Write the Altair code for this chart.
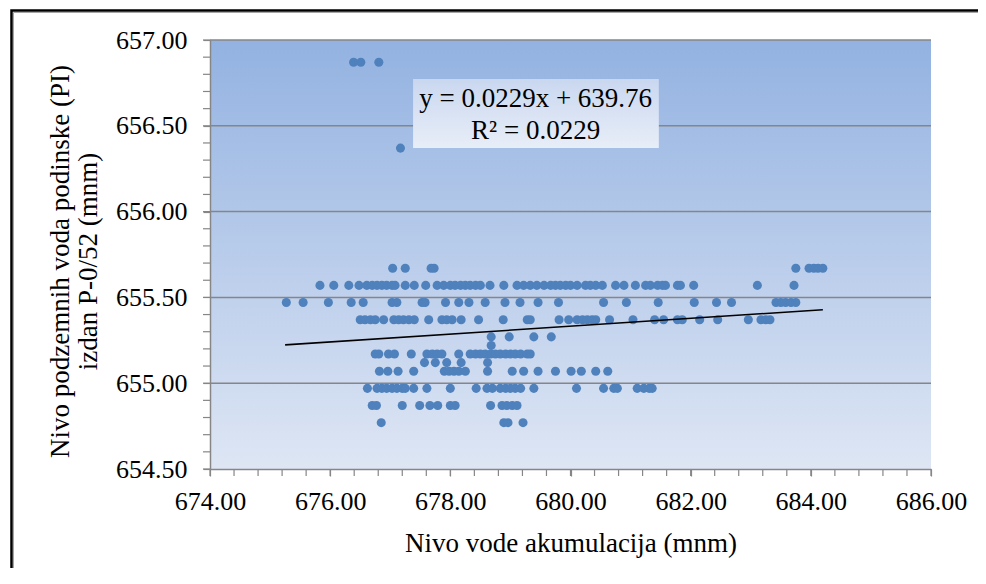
import altair as alt
import pandas as pd

# ---- data (x: Nivo vode akumulacija, one list per y level) ----
Y_LEVELS = [656.87, 656.37, 655.67, 655.57, 655.47, 655.37, 655.27, 655.22,
            655.17, 655.12, 655.07, 654.97, 654.87, 654.77]

x_65687 = [676.39, 676.51, 676.81]
x_65637 = [677.17]
x_65567 = [677.04, 677.25, 677.68, 677.73, 683.75, 683.97, 684.05, 684.12, 684.20]
x_65557 = [675.83, 676.06, 676.31, 676.48, 676.61, 676.70, 676.78, 676.86, 676.94,
           677.03, 677.08, 677.25, 677.40, 677.59, 677.78, 677.89, 678.00, 678.08,
           678.17, 678.25, 678.33, 678.42, 678.50, 678.66, 678.89, 679.11, 679.22,
           679.33, 679.44, 679.56, 679.67, 679.75, 679.83, 679.92, 680.00, 680.11,
           680.25, 680.33, 680.42, 680.53, 680.75, 680.89, 681.08, 681.25, 681.33,
           681.45, 681.53, 681.58, 681.78, 681.83, 682.05, 683.11, 683.72]
x_65547 = [675.27, 675.55, 675.97, 676.35, 676.55, 677.03, 677.11, 677.53, 677.58,
           677.92, 678.14, 678.31, 678.58, 678.91, 679.16, 679.46, 679.80, 680.55,
           680.93, 681.46, 682.06, 682.43, 682.68, 683.42, 683.50, 683.58, 683.67,
           683.75]
x_65537 = [676.50, 676.58, 676.67, 676.75, 676.89, 677.06, 677.14, 677.22, 677.31,
           677.40, 677.64, 677.86, 677.94, 678.03, 678.18, 678.47, 678.88, 679.28,
           679.33, 679.81, 679.97, 680.11, 680.20, 680.28, 680.36, 680.42, 680.65,
           681.04, 681.40, 681.55, 681.78, 681.86, 682.15, 682.45, 682.96, 683.17,
           683.25, 683.32]
x_65527 = [678.68, 678.98, 679.39, 679.68]
x_65522 = [678.68]
x_65517 = [676.75, 676.81, 676.97, 677.07, 677.35, 677.61, 677.70, 677.78, 677.86,
           678.14, 678.33, 678.42, 678.50, 678.58, 678.67, 678.75, 678.83, 678.92,
           679.00, 679.08, 679.17, 679.28, 679.33]
x_65512 = [677.57, 677.75, 677.94, 678.18, 678.62]
x_65507 = [676.82, 676.96, 677.13, 677.39, 677.90, 677.98, 678.06, 678.14, 678.25,
           678.62, 679.03, 679.22, 679.46, 679.75, 680.01, 680.18, 680.42, 680.62]
x_65497 = [676.62, 676.78, 676.86, 676.94, 677.03, 677.11, 677.20, 677.25, 677.39,
           677.61, 678.00, 678.43, 678.61, 678.70, 678.83, 678.92, 679.00, 679.08,
           679.17, 679.39, 680.10, 680.55, 680.72, 680.78, 681.11, 681.22, 681.31,
           681.36]
x_65487 = [676.70, 676.77, 677.20, 677.49, 677.66, 677.79, 678.00, 678.08, 678.67,
           678.86, 678.94, 679.03, 679.11]
x_65477 = [676.85, 678.89, 678.96, 679.21]

X_ROWS = [x_65687, x_65637, x_65567, x_65557, x_65547, x_65537, x_65527, x_65522,
          x_65517, x_65512, x_65507, x_65497, x_65487, x_65477]

# trendline as printed on the chart
SLOPE = 0.0229
INTERCEPT = 639.76
TREND_X = [675.25, 684.20]
EQ_LINES = ["y = 0.0229x + 639.76", "R² = 0.0229"]

X_TICKS = [674, 676, 678, 680, 682, 684, 686]
Y_TICKS = [654.5, 655.0, 655.5, 656.0, 656.5, 657.0]
GRID_Y = [655.0, 655.5, 656.0, 656.5, 657.0]
X_MINOR = [round(674 + 0.4 * i, 2) for i in range(31)]
Y_MINOR = [round(654.5 + 0.1 * i, 2) for i in range(26)]

X_TITLE = "Nivo vode akumulacija (mnm)"
Y_TITLE = ["Nivo podzemnih voda podinske (PI)", "izdan P-0/52 (mnm)"]

# ---- tables (same field names in every layer so the axes merge) ----
rows = [(x, y) for y, xs in zip(Y_LEVELS, X_ROWS) for x in xs]
df = pd.DataFrame(rows, columns=["x", "y"])
trend = pd.DataFrame({"x": TREND_X, "y": [SLOPE * v + INTERCEPT for v in TREND_X]})
eq_box = pd.DataFrame({"x": [677.38], "x2": [681.47], "y": [656.773], "y2": [656.371]})
eq_text = pd.DataFrame({"x": [679.42, 679.42], "y": [656.611, 656.421], "t": EQ_LINES})
one = pd.DataFrame({"a": [0]})

FONT = "'Liberation Serif', 'Times New Roman', Times, 'DejaVu Serif', serif"
GRAY = "#868686"
W, H = 721, 429

xs = alt.Scale(domain=[674, 686], nice=False, zero=False)
ys = alt.Scale(domain=[654.5, 657], nice=False, zero=False)

def grad(c0, c1):
    return alt.LinearGradient(
        gradient="linear", x1=0, x2=0, y1=0, y2=1,
        stops=[alt.GradientStop(color=c0, offset=0), alt.GradientStop(color=c1, offset=1)])

X_AXIS = alt.Axis(values=X_TICKS, format=".2f", title=X_TITLE, grid=False,
                  labelFlush=False, labelOverlap=False,
                  labelPadding=12, titlePadding=16, zindex=1)
Y_AXIS = alt.Axis(values=Y_TICKS, format=".2f", title=Y_TITLE, grid=False,
                  labelFlush=False, labelOverlap=False,
                  labelPadding=16, titlePadding=13, titleLineHeight=28,
                  titleY=221, zindex=1)

background = alt.Chart(one).mark_rect(fill=grad("#93B2E1", "#DEE6F4")).encode(
    x=alt.value(0), x2=alt.value(W), y=alt.value(0), y2=alt.value(H))

grid = alt.Chart(pd.DataFrame({"y": GRID_Y})).mark_rule(color=GRAY, strokeWidth=1.5).encode(
    y=alt.Y("y:Q", scale=ys, axis=Y_AXIS), x=alt.value(0), x2=alt.value(W))

points = alt.Chart(df).mark_circle(size=82, color="#4F81BD", opacity=1).encode(
    x=alt.X("x:Q", scale=xs, axis=X_AXIS),
    y=alt.Y("y:Q", scale=ys, axis=Y_AXIS),
)

trend_line = alt.Chart(trend).mark_line(color="black", strokeWidth=1.6).encode(
    x=alt.X("x:Q", scale=xs, axis=X_AXIS),
    y=alt.Y("y:Q", scale=ys, axis=Y_AXIS),
)

y_minor = alt.Chart(pd.DataFrame({"y": Y_MINOR})).mark_rule(color=GRAY, strokeWidth=1.2).encode(
    y=alt.Y("y:Q", scale=ys, axis=Y_AXIS), x=alt.value(-7), x2=alt.value(0))
x_minor = alt.Chart(pd.DataFrame({"x": X_MINOR})).mark_rule(color=GRAY, strokeWidth=1.2).encode(
    x=alt.X("x:Q", scale=xs, axis=X_AXIS), y=alt.value(H), y2=alt.value(H + 7))

box = alt.Chart(eq_box).mark_rect(fill=grad("#C9D7EF", "#E8EEF8")).encode(
    x=alt.X("x:Q", scale=xs, axis=X_AXIS), x2="x2:Q",
    y=alt.Y("y:Q", scale=ys, axis=Y_AXIS), y2="y2:Q")
eq = alt.Chart(eq_text).mark_text(font=FONT, fontSize=27, color="black",
                                  baseline="alphabetic", align="center").encode(
    x=alt.X("x:Q", scale=xs, axis=X_AXIS), y=alt.Y("y:Q", scale=ys, axis=Y_AXIS),
    text="t:N")

frame = alt.Chart(one).mark_rect(fill="transparent", stroke="black", strokeWidth=2.5).encode(
    x=alt.value(-198.5), x2=alt.value(1000), y=alt.value(-29.5), y2=alt.value(800))
frame2 = alt.Chart(one).mark_rect(fill="transparent", stroke="#A6A6A6", strokeWidth=1).encode(
    x=alt.value(-196.5), x2=alt.value(1000), y=alt.value(-27.5), y2=alt.value(800))

chart = alt.layer(background, grid, points, trend_line, y_minor, x_minor, box, eq,
                  frame, frame2).properties(
    width=W, height=H,
    autosize=alt.AutoSizeParams(type="none"),
    padding={"left": 202, "top": 32, "right": 47, "bottom": 99},
    background="white",
).configure_view(
    strokeOpacity=0
).configure_axis(
    domainColor=GRAY, domainWidth=1.5,
    tickColor=GRAY, tickSize=7, tickWidth=1.2,
    labelFont=FONT, labelFontSize=26, labelColor="black",
    titleFont=FONT, titleFontSize=27, titleFontWeight="normal", titleColor="black",
)

chart.save("out.html", embed_options={"renderer": "svg", "actions": False})
